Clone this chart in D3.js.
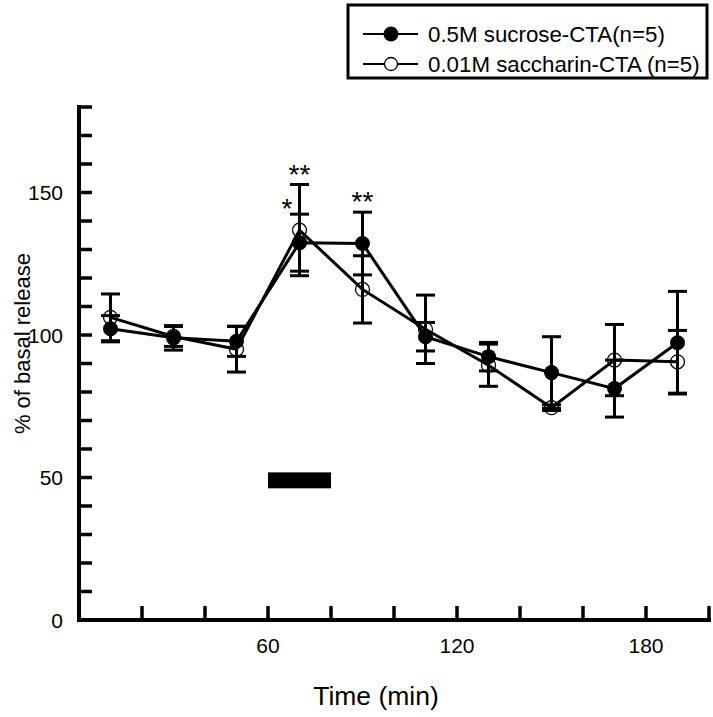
<!DOCTYPE html>
<html><head><meta charset="utf-8">
<script src="https://cdn.jsdelivr.net/npm/d3@7"></script>
<style>body{margin:0;background:#fff}svg{display:block}text{font-family:"Liberation Sans",Arial,sans-serif;fill:#000}</style>
</head><body><svg id="c" width="713" height="717"></svg>
<script>
const times = [10,30,50,70,90,110,130,150,170,190];
const sucroseMean = [102.2,99.0,97.8,132.4,132.1,99.4,92.4,86.8,81.2,97.3];
const sucroseSem  = [4.6,4.3,5.3,10.0,11.0,5.0,5.0,12.6,10.0,18.0];
const saccharinMean = [106.2,99.5,95.0,136.8,116.0,102.0,89.4,74.5,91.2,90.6];
const saccharinSem  = [8.2,3.5,8.0,16.0,11.8,12.0,7.4,1.0,12.5,11.0];
const seriesNames = ["0.5M sucrose-CTA(n=5)","0.01M saccharin-CTA (n=5)"];
const xTickValues = [20,40,60,80,100,120,140,160,180,200];
const xTickLabels = [60,120,180];
const yTickValues = [10,20,30,40,50,60,70,80,90,100,110,120,130,140,150,160,170,180];
const yTickLabels = [0,50,100,150];
const stimulus = [60,80];
const stimulusRange = [46.2,51.8];
const stars = [{t:70,v:160,s:"**"},{t:66,v:148,s:"*"},{t:90,v:150.5,s:"**"}];

const svg = d3.select("#c");
const x = d3.scaleLinear().domain([0,200]).range([79,709]);
const y = d3.scaleLinear().domain([0,180]).range([620,107]);

svg.append("line").attr("x1",x(0)).attr("x2",x(0)).attr("y1",y(0)+2).attr("y2",y(180)-2).attr("stroke","#000").attr("stroke-width",4);
svg.append("line").attr("x1",x(0)-2).attr("x2",x(200)+2).attr("y1",y(0)).attr("y2",y(0)).attr("stroke","#000").attr("stroke-width",4);
svg.selectAll(".yt").data(yTickValues).join("line").attr("class","yt").attr("x1",x(0)).attr("x2",x(0)+13).attr("y1",d=>y(d)).attr("y2",d=>y(d)).attr("stroke","#000").attr("stroke-width",3.5);
svg.selectAll(".xt").data(xTickValues).join("line").attr("class","xt").attr("x1",d=>x(d)).attr("x2",d=>x(d)).attr("y1",y(0)).attr("y2",y(0)-14).attr("stroke","#000").attr("stroke-width",3.5);
svg.selectAll(".yl").data(yTickLabels).join("text").attr("class","yl").attr("x",x(0)-16).attr("y",d=>y(d)).attr("dy","0.36em").attr("text-anchor","end").attr("font-size",21).text(d=>d);
svg.selectAll(".xl").data(xTickLabels).join("text").attr("class","xl").attr("x",d=>x(d)).attr("y",y(0)+33).attr("text-anchor","middle").attr("font-size",21).text(d=>d);
svg.append("text").attr("x",376).attr("y",705).attr("text-anchor","middle").attr("font-size",26.5).text("Time (min)");
svg.append("text").attr("transform","translate(30,"+y(97)+") rotate(-90)").attr("text-anchor","middle").attr("font-size",22).text("% of basal release");

svg.append("rect").attr("x",x(stimulus[0])).attr("width",x(stimulus[1])-x(stimulus[0])).attr("y",y(stimulusRange[1])).attr("height",y(stimulusRange[0])-y(stimulusRange[1])).attr("fill","#000");

function drawSeries(means, sems){
  const pts = times.map((t,i)=>({t, m:means[i], s:sems[i]}));
  const g = svg.append("g");
  g.selectAll(".eb").data(pts).join("line").attr("class","eb").attr("x1",d=>x(d.t)).attr("x2",d=>x(d.t)).attr("y1",d=>y(d.m-d.s)).attr("y2",d=>y(d.m+d.s)).attr("stroke","#000").attr("stroke-width",3);
  [["capLo",-1],["capHi",1]].forEach(([cls,sg])=>{
    g.selectAll("."+cls).data(pts).join("line").attr("class",cls).attr("x1",d=>x(d.t)-9.5).attr("x2",d=>x(d.t)+9.5)
      .attr("y1",d=>y(d.m+sg*d.s)).attr("y2",d=>y(d.m+sg*d.s)).attr("stroke","#000").attr("stroke-width",3);
  });
  g.append("path").datum(pts).attr("d",d3.line().x(d=>x(d.t)).y(d=>y(d.m))).attr("fill","none").attr("stroke","#000").attr("stroke-width",3);
  return {g,pts};
}
const s2 = drawSeries(saccharinMean, saccharinSem);
const s1 = drawSeries(sucroseMean, sucroseSem);
s2.g.selectAll("circle").data(s2.pts).join("circle").attr("cx",d=>x(d.t)).attr("cy",d=>y(d.m)).attr("r",7).attr("fill","none").attr("stroke","#000").attr("stroke-width",1.3);
s1.g.selectAll("circle").data(s1.pts).join("circle").attr("cx",d=>x(d.t)).attr("cy",d=>y(d.m)).attr("r",7.5).attr("fill","#000");

svg.selectAll(".star").data(stars).join("text").attr("class","star").attr("x",d=>x(d.t)).attr("y",d=>y(d.v)).attr("dy","0.7em").attr("text-anchor","middle").attr("font-size",28).text(d=>d.s);

const lg = svg.append("g");
lg.append("rect").attr("x",348).attr("y",5).attr("width",359).attr("height",73).attr("fill","#fff").attr("stroke","#000").attr("stroke-width",3);
seriesNames.forEach((n,i)=>{
  const cy = 34 + i*30;
  lg.append("line").attr("x1",363).attr("x2",418).attr("y1",cy).attr("y2",cy).attr("stroke","#000").attr("stroke-width",2);
  if(i===0) lg.append("circle").attr("cx",391).attr("cy",cy).attr("r",7.5).attr("fill","#000");
  else lg.append("circle").attr("cx",391).attr("cy",cy).attr("r",6.5).attr("fill","#fff").attr("stroke","#000").attr("stroke-width",1.3);
  lg.append("text").attr("x",428).attr("y",cy).attr("dy","0.36em").attr("font-size",22.3).text(n);
});
</script></body></html>
